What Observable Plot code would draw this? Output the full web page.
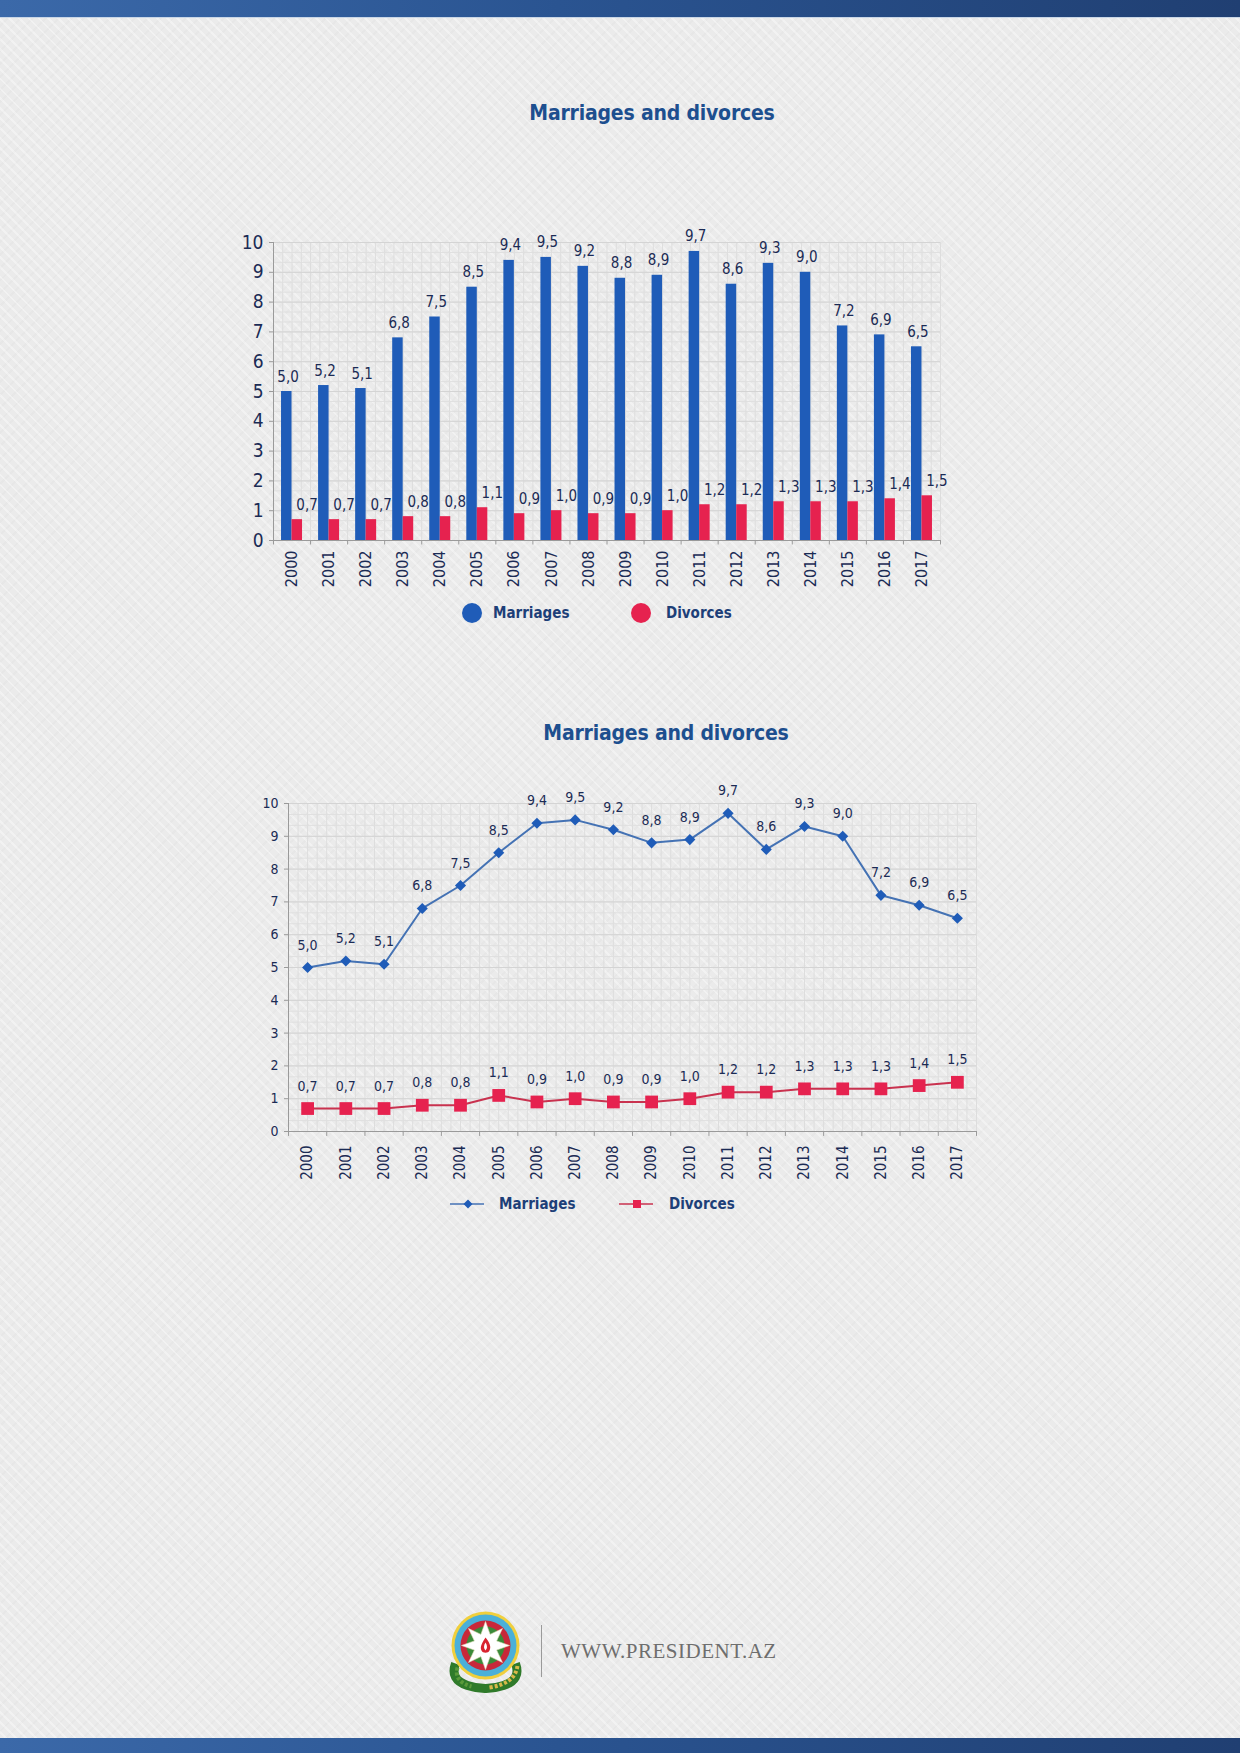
<!DOCTYPE html>
<html>
<head>
<meta charset="utf-8">
<script src="https://cdn.jsdelivr.net/npm/d3@7"></script>
<script src="https://cdn.jsdelivr.net/npm/@observablehq/plot@0.6"></script>
<style>
  html, body { margin: 0; padding: 0; }
  body {
    width: 1240px; height: 1753px; position: relative; overflow: hidden;
    background-color: #ebebeb;
    background-image:
      repeating-linear-gradient(45deg, rgba(255,255,255,0.35) 0 2px, rgba(255,255,255,0) 2px 7px),
      repeating-linear-gradient(-45deg, rgba(0,0,0,0.015) 0 2px, rgba(0,0,0,0) 2px 9px);
    font-family: "Liberation Sans Narrow", "DejaVu Sans Condensed", "Roboto Condensed", Roboto, sans-serif;
  }
  .bar-top { position: absolute; left: 0; top: 0; width: 1240px; height: 17px;
    background: linear-gradient(90deg, #3b69a9 0%, #2a5491 45%, #203f72 100%);
    border-bottom: 1px solid #c9d6e6; }
  .bar-bot { position: absolute; left: 0; top: 1738px; width: 1240px; height: 15px;
    background: linear-gradient(90deg, #3b69a9 0%, #2a5491 45%, #203f72 100%); }
  .title { position: absolute; transform: translate(-50%, -50%); white-space: nowrap;
    font-weight: bold; font-size: 21px; color: #1d4f8f; letter-spacing: -0.2px; }
  .abs { position: absolute; }
  .leg { position: absolute; transform: translateY(-50%); font-weight: bold; font-size: 15px; color: #1d3f78; white-space: nowrap; }
  .site { position: absolute; font-family: "Liberation Serif", "DejaVu Serif", serif; font-size: 21px; color: #6e6e6e; letter-spacing: 0.5px; transform: translateY(-50%); white-space: nowrap; }
</style>
</head>
<body>
<div class="bar-top"></div>
<div class="bar-bot"></div>

<div class="title" style="left:652px; top:113px;">Marriages and divorces</div>
<div id="chart1" class="abs" style="left:0px; top:200px;"></div>
<div id="legend1"></div>

<div class="title" style="left:666px; top:733px;">Marriages and divorces</div>
<div id="chart2" class="abs" style="left:0px; top:760px;"></div>
<div id="legend2"></div>

<!-- footer emblem (decorative) -->
<svg class="abs" style="left:438px; top:1598px;" width="95" height="95" viewBox="-47.5 -47.5 95 95">
  <g>
    <path d="M-30,18 Q-36,34 -18,40 Q0,46 18,40 Q36,34 30,18" fill="none" stroke="#2f7a2a" stroke-width="9"/>
    <path d="M-28,22 Q-32,36 -14,41" fill="none" stroke="#5a9a3a" stroke-width="4" stroke-dasharray="3 2"/>
    <path d="M4,42 Q30,38 32,20" fill="none" stroke="#d8b94a" stroke-width="4" stroke-dasharray="3 2"/>
    <circle r="34" fill="#f0cf3c"/>
    <circle r="31" fill="#4ab0d9"/>
    <circle r="25" fill="#c8283a"/>
    <circle r="19" fill="#3b8a3a"/>
  </g>
  <g id="star"></g>
  <circle r="9.5" fill="#ffffff"/>
  <path d="M0,-8 C4,-3 6,1 4,5 C3,8 -3,8 -4,5 C-6,1 -3,-3 0,-8 Z" fill="#d8232f"/>
  <path d="M0,-3 C2,0 2,3 0,5 C-2,3 -2,0 0,-3 Z" fill="#ffffff"/>
</svg>
<div class="abs" style="left:541px; top:1625px; width:1px; height:52px; background:#9a9a9a;"></div>
<div class="site" style="left:561px; top:1651px;">WWW.PRESIDENT.AZ</div>

<script>
// ---------------- data ----------------
const years = ["2000","2001","2002","2003","2004","2005","2006","2007","2008","2009","2010","2011","2012","2013","2014","2015","2016","2017"];
const marriages = [5.0, 5.2, 5.1, 6.8, 7.5, 8.5, 9.4, 9.5, 9.2, 8.8, 8.9, 9.7, 8.6, 9.3, 9.0, 7.2, 6.9, 6.5];
const divorces  = [0.7, 0.7, 0.7, 0.8, 0.8, 1.1, 0.9, 1.0, 0.9, 0.9, 1.0, 1.2, 1.2, 1.3, 1.3, 1.3, 1.4, 1.5];
const yTicks = [0, 1, 2, 3, 4, 5, 6, 7, 8, 9, 10];
const seriesNames = ["Marriages", "Divorces"];
const seriesColors = ["#1f5cb8", "#e6224f"];
const lineColors = ["#4472b4", "#c9324f"];

// ---------------- helpers ----------------
const rows = years.map((year, i) => ({year, marriages: marriages[i], divorces: divorces[i]}));
const fmt = v => d3.format(".1f")(v).replace(".", ",");
const FONT = '"Liberation Sans Narrow", "DejaVu Sans Condensed", "Roboto Condensed", Roboto, sans-serif';
const TXT = "#1b2b55";
const AXIS = "#9a9a9a";
const yMinor = d3.range(0, 31).map(i => i / 3);

function gridMarks(bw) {
  const fr = [-0.5, -0.25, 0, 0.25];
  return [
    ...fr.map(f => Plot.ruleX(years, {x: d => d, dx: f * bw, stroke: "#dddddd", strokeWidth: 1})),
    Plot.ruleX([years[years.length - 1]], {x: d => d, dx: bw / 2, stroke: "#dddddd"}),
    Plot.ruleY(yMinor, {y: d => d, stroke: "#dfdfdf"}),
    Plot.ruleY(yTicks, {y: d => d, stroke: "#d4d4d4"})
  ];
}
function frameMarks(bw) {
  return [
    Plot.ruleY([0], {stroke: AXIS}),
    Plot.ruleX([years[0]], {x: d => d, dx: -bw / 2, stroke: AXIS}),
    Plot.ruleX(years, {x: d => d, dx: bw / 2, y1: 0, y2: -0.15, stroke: AXIS}),
    Plot.ruleX([years[0]], {x: d => d, dx: -bw / 2, y1: 0, y2: -0.15, stroke: AXIS})
  ];
}

// ---------------- chart 1: bars ----------------
{
  const W = 960, H = 395, ML = 273, MR = 20, MT = 42, MB = 55;
  const bw = (W - ML - MR) / years.length;
  const barW = 10.5;
  const chart = Plot.plot({
    width: W, height: H, marginLeft: ML, marginRight: MR, marginTop: MT, marginBottom: MB,
    style: {background: "transparent", fontFamily: FONT, overflow: "visible", color: TXT},
    x: {type: "band", domain: years, padding: 0, round: false, axis: null},
    y: {domain: [0, 10], axis: null},
    marks: [
      ...gridMarks(bw),
      Plot.barY(rows, {x: "year", y: "marriages", fill: seriesColors[0], insetLeft: bw / 2 - barW, insetRight: bw / 2}),
      Plot.barY(rows, {x: "year", y: "divorces", fill: seriesColors[1], insetLeft: bw / 2, insetRight: bw / 2 - barW}),
      Plot.text(rows, {x: "year", y: "marriages", text: d => fmt(d.marriages), dx: -4, dy: -10, lineAnchor: "bottom", fill: TXT, fontSize: 15}),
      Plot.text(rows, {x: "year", y: "divorces", text: d => fmt(d.divorces), dx: 15, dy: -10, lineAnchor: "bottom", fill: TXT, fontSize: 15}),
      ...frameMarks(bw),
      Plot.axisY({ticks: yTicks, tickSize: 4, tickPadding: 6, fontSize: 19, stroke: AXIS, fill: TXT, label: null}),
      Plot.axisX({tickSize: 0, tickRotate: -90, tickPadding: 10, fontSize: 16, fill: TXT, label: null})
    ]
  });
  document.getElementById("chart1").appendChild(chart);
}

// ---------------- chart 2: lines ----------------
{
  const W = 1000, H = 426, ML = 288, MR = 24, MT = 43, MB = 55;
  const bw = (W - ML - MR) / years.length;
  const chart = Plot.plot({
    width: W, height: H, marginLeft: ML, marginRight: MR, marginTop: MT, marginBottom: MB,
    style: {background: "transparent", fontFamily: FONT, overflow: "visible", color: TXT},
    x: {type: "band", domain: years, padding: 0, round: false, axis: null},
    y: {domain: [0, 10], axis: null},
    marks: [
      ...gridMarks(bw),
      ...frameMarks(bw),
      Plot.line(rows, {x: "year", y: "marriages", stroke: lineColors[0], strokeWidth: 2}),
      Plot.line(rows, {x: "year", y: "divorces", stroke: lineColors[1], strokeWidth: 2}),
      Plot.dot(rows, {x: "year", y: "marriages", symbol: "diamond2", r: 5, fill: seriesColors[0], stroke: "none"}),
      Plot.dot(rows, {x: "year", y: "divorces", symbol: "square", r: 7.2, fill: seriesColors[1], stroke: "none"}),
      Plot.text(rows, {x: "year", y: "marriages", text: d => fmt(d.marriages), dy: -18, lineAnchor: "bottom", fill: TXT, fontSize: 14}),
      Plot.text(rows, {x: "year", y: "divorces", text: d => fmt(d.divorces), dy: -18, lineAnchor: "bottom", fill: TXT, fontSize: 14}),
      Plot.axisY({ticks: yTicks, tickSize: 4, tickPadding: 6, fontSize: 14, stroke: AXIS, fill: TXT, label: null}),
      Plot.axisX({tickSize: 0, tickRotate: -90, tickPadding: 14, fontSize: 15, fill: TXT, label: null})
    ]
  });
  document.getElementById("chart2").appendChild(chart);
}

// ---------------- legends ----------------
{
  const l1 = document.getElementById("legend1");
  const pos1 = [{cx: 471.5, tx: 493}, {cx: 641, tx: 666}];
  seriesNames.forEach((name, i) => {
    const s = document.createElementNS("http://www.w3.org/2000/svg", "svg");
    s.setAttribute("width", 22); s.setAttribute("height", 22);
    s.setAttribute("class", "abs");
    s.style.left = (pos1[i].cx - 11) + "px"; s.style.top = (613 - 11) + "px";
    s.innerHTML = `<circle cx="11" cy="11" r="10" fill="${seriesColors[i]}"/>`;
    l1.appendChild(s);
    const t = document.createElement("div");
    t.className = "leg"; t.textContent = name;
    t.style.left = pos1[i].tx + "px"; t.style.top = "613px";
    l1.appendChild(t);
  });

  const l2 = document.getElementById("legend2");
  const pos2 = [{x0: 450, tx: 499}, {x0: 619, tx: 669}];
  seriesNames.forEach((name, i) => {
    const s = document.createElementNS("http://www.w3.org/2000/svg", "svg");
    s.setAttribute("width", 36); s.setAttribute("height", 16);
    s.setAttribute("class", "abs");
    s.style.left = pos2[i].x0 + "px"; s.style.top = (1204 - 8) + "px";
    const marker = i === 0
      ? `<path d="M18,3.5 L22.5,8 L18,12.5 L13.5,8 Z" fill="${seriesColors[0]}"/>`
      : `<rect x="14" y="4" width="8" height="8" fill="${seriesColors[1]}"/>`;
    s.innerHTML = `<line x1="0" y1="8" x2="34" y2="8" stroke="${lineColors[i]}" stroke-width="1.6"/>` + marker;
    l2.appendChild(s);
    const t = document.createElement("div");
    t.className = "leg"; t.textContent = name;
    t.style.left = pos2[i].tx + "px"; t.style.top = "1204px";
    l2.appendChild(t);
  });
}

// ---------------- emblem star (decorative) ----------------
{
  const g = document.getElementById("star");
  const pts = [];
  for (let k = 0; k < 16; k++) {
    const a = -Math.PI / 2 + k * Math.PI / 8;
    const r = k % 2 === 0 ? 24 : 12;
    pts.push([r * Math.cos(a), r * Math.sin(a)]);
  }
  g.innerHTML = `<polygon points="${pts.map(p => p.join(",")).join(" ")}" fill="#ffffff" stroke="#e8e0c0" stroke-width="0.6"/>`;
}
</script>
</body>
</html>
